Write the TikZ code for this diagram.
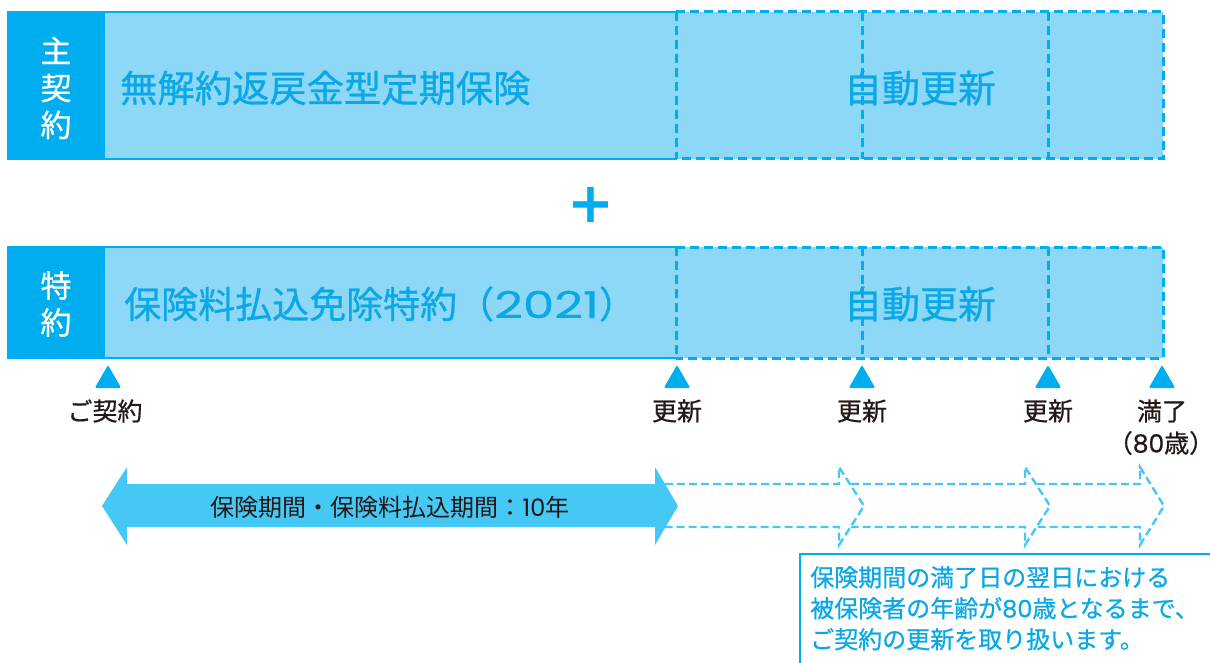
\documentclass[tikz,border=0pt]{standalone}
\usepackage{fontspec}
\setmainfont{Noto Sans CJK JP}[BoldFont={Noto Sans CJK JP},BoldFeatures={FakeBold=0.7}]
\newfontfamily\djv{DejaVu Sans}
\newfontfamily\dig{Poppins}[BoldFont={Poppins},BoldFeatures={FakeBold=0.5}]
\newfontfamily\digwide{Poppins}[FakeStretch=1.35,BoldFont={Poppins},BoldFeatures={FakeBold=0.5,FakeStretch=1.35}]
\definecolor{dblue}{HTML}{00AEEF}
\definecolor{lfill}{HTML}{8DD8F6}
\definecolor{afill}{HTML}{45C8F4}
\definecolor{tblue}{HTML}{0AA8E6}
\definecolor{ink}{HTML}{231815}
\tikzset{
  solidedge/.style={draw=dblue,line width=2.4pt},
  dashedge/.style={draw=dblue,line width=3pt,dash pattern=on 9pt off 5pt},
  labeltxt/.style={text=white,font=\bfseries\fontsize{31}{37}\selectfont,align=center,inner sep=0pt},
  titletxt/.style={text=tblue,font=\bfseries\fontsize{37.3}{44}\selectfont,inner sep=0pt,anchor=west},
  autotxt/.style={text=tblue,font=\bfseries\fontsize{38}{44}\selectfont,inner sep=0pt},
  marker/.style={fill=dblue,draw=dblue,line width=2pt,line join=round},
  evtxt/.style={text=ink,font=\bfseries\fontsize{25}{32}\selectfont,inner sep=0pt,align=center},
  dasharrow/.style={draw=afill,line width=2.4pt,dash pattern=on 8pt off 4pt},
  notetxt/.style={text=tblue,font=\bfseries\fontsize{24}{31}\selectfont,inner sep=0pt,align=left,anchor=north west}
}
\begin{document}
\begin{tikzpicture}[x=1pt,y=-1pt]
\useasboundingbox (0,0) rectangle (1210,663);
% ---------- main contract row ----------
\fill[lfill] (8,12) rectangle (1163,159);
\fill[dblue] (8,12) rectangle (105,159);
\draw[solidedge] (676,12) -- (8,12) -- (8,159) -- (676,159);
\draw[dashedge] (676,12) -- (1163,12) -- (1163,159) -- (676,159);
\draw[dashedge] (676,12) -- (676,159);
\draw[dashedge] (862,12) -- (862,159);
\draw[dashedge] (1048,12) -- (1048,159);
\node[labeltxt] (lab1) at (56,88) {主\\契\\約};
\node[titletxt] (title1) at (120,88) {無解約返戻金型定期保険};
\node[autotxt] (auto1) at (920,88) {自動更新};
% ---------- plus ----------
\node[text=dblue,font=\djv\bfseries\fontsize{56}{56}\selectfont,inner sep=0pt] (plus) at (591,205) {+};
% ---------- rider row ----------
\fill[lfill] (8,247) rectangle (1163,358);
\fill[dblue] (8,247) rectangle (105,358);
\draw[solidedge] (676,247) -- (8,247) -- (8,358) -- (676,358);
\draw[dashedge] (676,247) -- (1163,247) -- (1163,358) -- (676,358);
\draw[dashedge] (676,247) -- (676,358);
\draw[dashedge] (862,247) -- (862,358);
\draw[dashedge] (1048,247) -- (1048,358);
\node[labeltxt] (lab2) at (56,304) {特\\約};
\node[titletxt,font=\bfseries\fontsize{37}{44}\selectfont] (title2) at (124,304) {保険料払込免除特約（{\digwide 2021}）};
\node[autotxt] (auto2) at (920,304) {自動更新};
% ---------- markers ----------
\foreach \n/\x in {m0/108,m1/677,m2/862,m3/1048,m4/1162}{
  \draw[marker] (\x-11.5,387) -- (\x,367) -- (\x+11.5,387) -- cycle;
  \coordinate (\n) at (\x,387);
}
\node[evtxt] (e0) at (105,411) {ご契約};
\node[evtxt] (e1) at (677,411) {更新};
\node[evtxt] (e2) at (862,411) {更新};
\node[evtxt] (e3) at (1048,411) {更新};
\node[evtxt] (e4) at (1162,411) {満了};
\node[evtxt] (e5) at (1161,443) {（{\dig 80}歳）};
% ---------- dashed renewal arrows ----------
\draw[dasharrow] (665,484) -- (839,484) -- (839,467) -- (864,506) -- (839,545) -- (839,527) -- (665,527);
\draw[dasharrow] (851,484) -- (1025,484) -- (1025,467) -- (1050,506) -- (1025,545) -- (1025,527) -- (851,527);
\draw[dasharrow] (1037,484) -- (1140,484) -- (1140,467) -- (1164,506) -- (1140,545) -- (1140,527) -- (1037,527);
% ---------- solid period arrow ----------
\fill[afill] (102,506) -- (127,467) -- (127,484) -- (655,484) -- (655,467) -- (678,506) -- (655,545) -- (655,527) -- (127,527) -- (127,545) -- cycle;
\node[text=ink,font=\fontsize{24}{28}\selectfont,inner sep=0pt] (period) at (390,507) {保険期間・保険料払込期間：{\dig 10}年};
% ---------- note box ----------
\draw[draw=dblue,line width=2.5pt] (800,670) -- (800,554) -- (1216,554);
\node[notetxt] (note) at (810,566) {保険期間の満了日の翌日における\\被保険者の年齢が{\dig\bfseries 80}歳となるまで、\\ご契約の更新を取り扱います。};
\end{tikzpicture}
\end{document}
